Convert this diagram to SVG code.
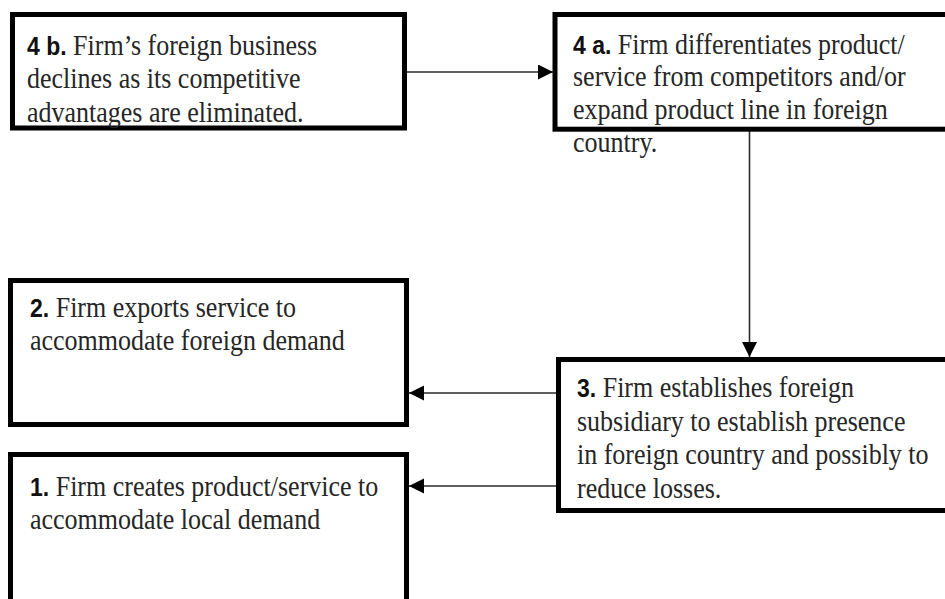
<svg xmlns="http://www.w3.org/2000/svg" width="945" height="599" viewBox="0 0 945 599">
<style>
.box{fill:#fff;stroke:#000;stroke-width:5}
.t{font-family:"Liberation Serif","Times New Roman",serif;font-size:26px;fill:#262626}
.b{font-family:"Liberation Sans",Arial,sans-serif;font-size:23px;font-weight:bold;fill:#111}
.c{stroke:#2a2a2a;stroke-width:1.6;fill:none;marker-end:url(#ah)}
</style>
<defs>
<marker id="ah" markerUnits="userSpaceOnUse" markerWidth="16" markerHeight="16" refX="15" refY="7.5" orient="auto">
<path d="M0,0 L15,7.5 L0,15 Z" fill="#000"/>
</marker>
</defs>
<rect width="945" height="599" fill="#fff"/>
<g id="connectors">
<line class="c" x1="407" y1="72" x2="553" y2="72"/>
<line class="c" x1="749.5" y1="131" x2="749.5" y2="357"/>
<line class="c" x1="556" y1="393" x2="409" y2="393"/>
<line class="c" x1="556" y1="486" x2="409" y2="486"/>
</g>
<g id="node-4b">
<rect class="box" x="12.5" y="14.5" width="392" height="113.5"/>
<g transform="translate(27,54.5) scale(1,1.13)">
<text class="t" x="0" y="0"><tspan class="b">4 b.</tspan> Firm’s foreign business</text>
<text class="t" x="0" y="29.65">declines as its competitive</text>
<text class="t" x="0" y="59.3">advantages are eliminated.</text>
</g>
</g>
<g id="node-4a">
<rect class="box" x="555" y="14.5" width="400" height="114.7"/>
<g transform="translate(573,53.5) scale(1,1.13)">
<text class="t" x="0" y="0"><tspan class="b">4 a.</tspan> Firm differentiates product/</text>
<text class="t" x="0" y="29.2">service from competitors and/or</text>
<text class="t" x="0" y="58.4">expand product line in foreign</text>
<text class="t" x="0" y="87.6">country.</text>
</g>
</g>
<g id="node-2">
<rect class="box" x="10.5" y="280.5" width="396" height="144"/>
<g transform="translate(30,316.5) scale(1,1.13)">
<text class="t" x="0" y="0"><tspan class="b">2.</tspan> Firm exports service to</text>
<text class="t" x="0" y="29.65">accommodate foreign demand</text>
</g>
</g>
<g id="node-1">
<rect class="box" x="10.5" y="454.5" width="396" height="170"/>
<g transform="translate(30,496) scale(1,1.13)">
<text class="t" x="0" y="0"><tspan class="b">1.</tspan> Firm creates product/service to</text>
<text class="t" x="0" y="29">accommodate local demand</text>
</g>
</g>
<g id="node-3">
<rect class="box" x="558.5" y="359.5" width="400" height="151"/>
<g transform="translate(577,397) scale(1,1.13)">
<text class="t" x="0" y="0"><tspan class="b">3.</tspan> Firm establishes foreign</text>
<text class="t" x="0" y="29.8">subsidiary to establish presence</text>
<text class="t" x="0" y="59.6">in foreign country and possibly to</text>
<text class="t" x="0" y="89.4">reduce losses.</text>
</g>
</g>
</svg>
